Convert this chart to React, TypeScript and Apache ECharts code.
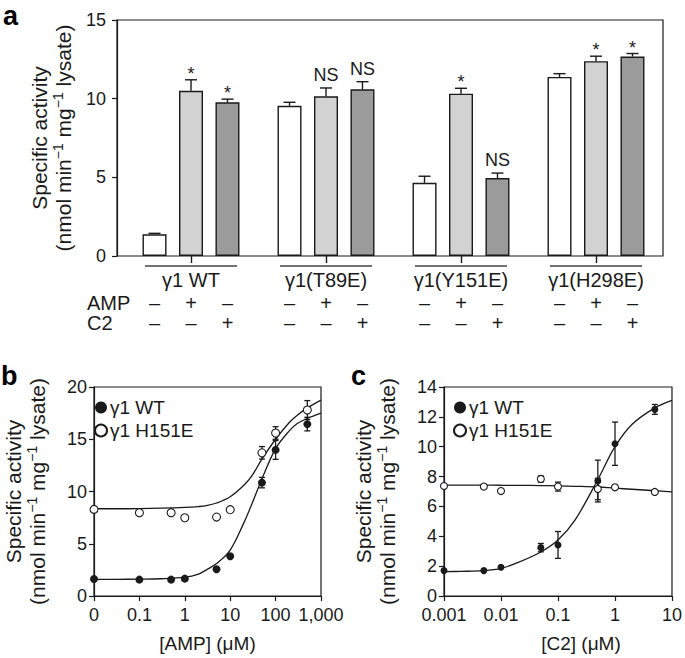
import React, { useEffect, useRef } from 'react';
import * as echarts from 'echarts';

// ---------- Panel a ----------
const groups = ['γ1 WT', 'γ1(T89E)', 'γ1(Y151E)', 'γ1(H298E)'];
const basal = [1.38, 9.55, 4.65, 11.38];
const basalErr = [0.06, 0.22, 0.42, 0.21];
const ampVals = [10.5, 10.15, 10.32, 12.38];
const ampErr = [0.7, 0.53, 0.34, 0.32];
const c2Vals = [9.77, 10.6, 4.95, 12.68];
const c2Err = [0.2, 0.48, 0.32, 0.19];
const ampMarks = ['*', 'NS', '*', '*'];
const c2Marks = ['*', 'NS', 'NS', '*'];
const ampSigns = ['–', '+', '–'];
const c2Signs = ['–', '–', '+'];
const barColors = ['#ffffff', '#d2d2d2', '#9b9b9b'];

// ---------- Panel b ----------
const ampConc = [0, 0.1, 0.5, 1, 5, 10, 50, 100, 500];
const bWT = [1.63, 1.57, 1.57, 1.66, 2.56, 3.81, 10.85, 13.98, 16.45];
const bWTErr = [0, 0, 0, 0, 0, 0, 0.5, 0.9, 0.65];
const bH = [8.29, 7.97, 7.97, 7.49, 7.55, 8.26, 13.7, 15.6, 17.8];
const bHErr = [0, 0, 0, 0, 0, 0, 0.6, 0.6, 0.9];
const bFitX = [0, 0.03, 0.1, 0.3, 1, 2, 3, 5, 10, 20, 30, 50, 100, 200, 300, 500, 1000];
const bFitWT = [1.6, 1.6, 1.61, 1.65, 1.8, 2.1, 2.5, 3.1, 4.4, 7.0, 8.8, 11.2, 14.1, 15.8, 16.5, 17.0, 17.5];
const bFitH = [8.35, 8.35, 8.36, 8.4, 8.48, 8.56, 8.65, 8.9, 9.5, 10.6, 11.5, 13.1, 15.0, 16.6, 17.3, 18.0, 18.75];
const bTickLabels = ['0', '0.1', '1', '10', '100', '1,000'];
const B_ZERO = 0.01; // where "0" sits on the log axis

// ---------- Panel c ----------
const c2Conc = [0.001, 0.005, 0.01, 0.05, 0.1, 0.5, 1, 5];
const cWT = [1.7, 1.7, 1.92, 3.24, 3.42, 7.7, 10.2, 12.5];
const cWTErr = [0, 0, 0, 0.28, 0.9, 1.4, 1.45, 0.33];
const cH = [7.37, 7.33, 7.03, 7.84, 7.33, 7.17, 7.28, 6.97];
const cHErr = [0, 0, 0, 0.2, 0.3, 0.72, 0.15, 0.1];
const cFitX = [0.001, 0.002, 0.005, 0.01, 0.02, 0.05, 0.1, 0.2, 0.5, 1, 2, 5, 10];
const cFitWT = [1.63, 1.65, 1.7, 1.85, 2.25, 2.95, 3.75, 5.1, 7.8, 10.0, 11.5, 12.6, 13.1];
const cFitH = [7.43, 7.43, 7.43, 7.42, 7.41, 7.4, 7.38, 7.35, 7.3, 7.22, 7.15, 7.05, 6.97];
const cTickLabels = ['0.001', '0.01', '0.1', '1', '10'];

const FONT = '"Liberation Sans", Arial, Helvetica, sans-serif';
const INK = '#1a1a1a';
const BAR_W = 24;
const BAR_GAP = 0.52;
const BAR_STEP = BAR_W * (1 + BAR_GAP);
const TICK_FS = 18;
const TITLE_FS = 21;
const yTitle = 'Specific activity\n(nmol min{sup|−1} mg{sup|−1} lysate)';
const yTitleStyle = {
  fontSize: TITLE_FS,
  fontFamily: FONT,
  color: INK,
  lineHeight: 24,
  rich: {
    sup: { fontSize: 14, fontFamily: FONT, color: INK, verticalAlign: 'top', lineHeight: 15 },
  },
};

function errRender(capHalf: number, lw: number) {
  return (params: any, api: any) => {
    const x = api.value(0);
    const y = api.value(1);
    const e = api.value(2);
    if (!e) return { type: 'group', children: [] };
    const t = api.coord([x, y + e]);
    const b = api.coord([x, y - e]);
    const st = { stroke: INK, lineWidth: lw };
    return {
      type: 'group',
      children: [
        { type: 'line', shape: { x1: t[0], y1: t[1], x2: b[0], y2: b[1] }, style: st },
        { type: 'line', shape: { x1: t[0] - capHalf, y1: t[1], x2: t[0] + capHalf, y2: t[1] }, style: st },
        { type: 'line', shape: { x1: b[0] - capHalf, y1: b[1], x2: b[0] + capHalf, y2: b[1] }, style: st },
      ],
    };
  };
}

function barErrRender(k: number, vals: number[], errs: number[], marks: string[] | null) {
  return (params: any, api: any) => {
    const i = params.dataIndex;
    const v = vals[i];
    const e = errs[i];
    const base = api.coord([i, v]);
    const top = api.coord([i, v + e]);
    const x = base[0] + (k - 1) * BAR_STEP;
    const st = { stroke: INK, lineWidth: 1.4 };
    const children: any[] = [
      { type: 'line', shape: { x1: x, y1: base[1], x2: x, y2: top[1] }, style: st },
      { type: 'line', shape: { x1: x - 6, y1: top[1], x2: x + 6, y2: top[1] }, style: st },
    ];
    if (marks) {
      const m = marks[i];
      children.push({
        type: 'text',
        x,
        y: m === '*' ? top[1] + 3 : top[1] - 4,
        style: {
          text: m,
          fontSize: 18,
          fontFamily: FONT,
          fill: INK,
          align: 'center',
          verticalAlign: 'bottom',
        },
      });
    }
    return { type: 'group', children };
  };
}

function signsRender(params: any, api: any) {
  const i = params.dataIndex;
  const c = api.coord([i, 0]);
  const children: any[] = [
    { type: 'line', shape: { x1: c[0] - 46, y1: c[1] + 10, x2: c[0] + 46, y2: c[1] + 10 }, style: { stroke: '#444', lineWidth: 1.4 } },
  ];
  for (let k = 0; k < 3; k++) {
    const x = c[0] + (k - 1) * BAR_STEP;
    children.push({ type: 'text', x, y: c[1] + 47, style: { text: ampSigns[k], fontSize: 20, fontFamily: FONT, fill: INK, align: 'center', verticalAlign: 'middle' } });
    children.push({ type: 'text', x, y: c[1] + 67, style: { text: c2Signs[k], fontSize: 20, fontFamily: FONT, fill: INK, align: 'center', verticalAlign: 'middle' } });
  }
  return { type: 'group', children };
}

const axisCommon = {
  axisLine: { show: true, lineStyle: { color: INK, width: 1.2 } },
  axisTick: { show: true, length: 5, lineStyle: { color: INK, width: 1.2 } },
  axisLabel: { fontSize: TICK_FS, fontFamily: FONT, color: INK, margin: 10 },
  splitLine: { show: false },
};

const legendCommon = {
  orient: 'vertical',
  data: ['γ1 WT', 'γ1 H151E'],
  itemWidth: 12,
  itemHeight: 12,
  itemGap: 4,
  selectedMode: false,
  textStyle: { fontSize: 19, fontFamily: FONT, color: INK, padding: [0, 0, 0, -2] },
};

export default function App() {
  const ref = useRef<HTMLDivElement>(null);
  useEffect(() => {
    const chart = echarts.init(ref.current!, null, { renderer: 'svg' });
    const fitLine = (xi: number, data: number[][]) => ({
      type: 'line',
      xAxisIndex: xi,
      yAxisIndex: xi,
      data,
      smooth: 0.35,
      symbol: 'none',
      lineStyle: { color: INK, width: 1.3 },
      silent: true,
    });
    const scat = (name: string, xi: number, data: number[][], filled: boolean, size: number) => ({
      name,
      type: 'scatter',
      xAxisIndex: xi,
      yAxisIndex: xi,
      data,
      symbol: 'circle',
      symbolSize: size,
      itemStyle: filled
        ? { color: INK, opacity: 1 }
        : { color: '#fff', borderColor: INK, borderWidth: 1.1, opacity: 1 },
      clip: false,
      silent: true,
      z: 4,
    });
    const errs = (xi: number, data: number[][]) => ({
      type: 'custom',
      xAxisIndex: xi,
      yAxisIndex: xi,
      data,
      renderItem: errRender(3, 1.3),
      silent: true,
    });
    const bx = (x: number) => (x === 0 ? B_ZERO : x);
    const option: any = {
      animation: false,
      backgroundColor: '#fff',
      textStyle: { fontFamily: FONT },
      grid: [
        { left: 117, top: 20, width: 546, height: 236, show: true, borderColor: INK, borderWidth: 1.2, backgroundColor: 'transparent' },
        { left: 123.5, top: 20, width: 540, height: 236 },
        { left: 87, top: 387, width: 234, height: 209, show: true, borderColor: INK, borderWidth: 1.2, backgroundColor: 'transparent' },
        { left: 444, top: 387, width: 231, height: 209, show: true, borderColor: INK, borderWidth: 1.2, backgroundColor: 'transparent' },
      ],
      xAxis: [
        { gridIndex: 0, type: 'value', min: 0, max: 1, show: false },
        {
          gridIndex: 1,
          type: 'category',
          data: groups,
          axisLine: { show: false },
          axisTick: { show: true, alignWithLabel: true, length: 7, lineStyle: { color: INK, width: 1.4 } },
          axisLabel: { fontSize: 20, fontFamily: FONT, color: INK, margin: 14 },
        },
        {
          gridIndex: 2,
          type: 'log',
          logBase: 10,
          min: B_ZERO,
          max: 1000,
          ...axisCommon,
          axisLabel: { ...axisCommon.axisLabel, formatter: (v: number) => bTickLabels[Math.round(Math.log10(v)) + 2] ?? '' },
          name: '[AMP] (μM)',
          nameLocation: 'middle',
          nameGap: 38,
          nameTextStyle: { fontSize: 19, fontFamily: FONT, color: INK },
        },
        {
          gridIndex: 3,
          type: 'log',
          logBase: 10,
          min: 0.001,
          max: 10,
          ...axisCommon,
          axisLabel: { ...axisCommon.axisLabel, formatter: (v: number) => cTickLabels[Math.round(Math.log10(v)) + 3] ?? '' },
          name: '[C2] (μM)',
          nameLocation: 'middle',
          nameGap: 38,
          nameTextStyle: { fontSize: 19, fontFamily: FONT, color: INK, padding: [0, 0, 0, 46] },
        },
      ],
      yAxis: [
        {
          gridIndex: 0,
          type: 'value',
          min: 0,
          max: 15,
          interval: 5,
          ...axisCommon,
          axisLabel: { ...axisCommon.axisLabel, margin: 11 },
          name: yTitle,
          nameLocation: 'middle',
          nameGap: 42,
          nameTextStyle: yTitleStyle,
        },
        { gridIndex: 1, type: 'value', min: 0, max: 15, show: false },
        {
          gridIndex: 2,
          type: 'value',
          min: 0,
          max: 20,
          interval: 5,
          ...axisCommon,
          axisLabel: { ...axisCommon.axisLabel, margin: 7 },
          name: yTitle,
          nameLocation: 'middle',
          nameGap: 45,
          nameTextStyle: yTitleStyle,
        },
        {
          gridIndex: 3,
          type: 'value',
          min: 0,
          max: 14,
          interval: 2,
          ...axisCommon,
          axisLabel: { ...axisCommon.axisLabel, margin: 7 },
          name: yTitle,
          nameLocation: 'middle',
          nameGap: 45,
          nameTextStyle: yTitleStyle,
        },
      ],
      legend: [
        { ...legendCommon, left: 89, top: 393 },
        { ...legendCommon, left: 448, top: 393 },
      ],
      graphic: [
        { type: 'text', x: 3, y: 16, style: { text: 'a', fontSize: 27, fontWeight: 'bold', fontFamily: FONT, fill: '#000', verticalAlign: 'middle' } },
        { type: 'text', x: 1, y: 376, style: { text: 'b', fontSize: 27, fontWeight: 'bold', fontFamily: FONT, fill: '#000', verticalAlign: 'middle' } },
        { type: 'text', x: 351, y: 376, style: { text: 'c', fontSize: 27, fontWeight: 'bold', fontFamily: FONT, fill: '#000', verticalAlign: 'middle' } },
        { type: 'text', x: 87, y: 303, style: { text: 'AMP', fontSize: 20, fontFamily: FONT, fill: INK, verticalAlign: 'middle' } },
        { type: 'text', x: 87, y: 323, style: { text: 'C2', fontSize: 20, fontFamily: FONT, fill: INK, verticalAlign: 'middle' } },
      ],
      series: [
        // Panel a bars
        ...[basal, ampVals, c2Vals].map((vals, k) => ({
          type: 'bar',
          xAxisIndex: 1,
          yAxisIndex: 1,
          data: vals,
          barWidth: BAR_W,
          barGap: `${BAR_GAP * 100}%`,
          itemStyle: { color: barColors[k], borderColor: INK, borderWidth: 1.4 },
          silent: true,
        })),
        ...[
          [basal, basalErr, null],
          [ampVals, ampErr, ampMarks],
          [c2Vals, c2Err, c2Marks],
        ].map((d: any, k) => ({
          type: 'custom',
          xAxisIndex: 1,
          yAxisIndex: 1,
          data: groups.map((_, i) => [i, d[0][i]]),
          renderItem: barErrRender(k, d[0], d[1], d[2]),
          silent: true,
          z: 5,
        })),
        {
          type: 'custom',
          xAxisIndex: 1,
          yAxisIndex: 1,
          data: groups.map((_, i) => [i, 0]),
          renderItem: signsRender,
          silent: true,
          clip: false,
        },
        // Panel b
        fitLine(2, bFitX.map((x, i) => [bx(x), bFitWT[i]])),
        fitLine(2, bFitX.map((x, i) => [bx(x), bFitH[i]])),
        errs(2, ampConc.map((x, i) => [bx(x), bH[i], bHErr[i]])),
        errs(2, ampConc.map((x, i) => [bx(x), bWT[i], bWTErr[i]])),
        scat('γ1 H151E', 2, ampConc.map((x, i) => [bx(x), bH[i]]), false, 8),
        scat('γ1 WT', 2, ampConc.map((x, i) => [bx(x), bWT[i]]), true, 8),
        // Panel c
        fitLine(3, cFitX.map((x, i) => [x, cFitWT[i]])),
        fitLine(3, cFitX.map((x, i) => [x, cFitH[i]])),
        errs(3, c2Conc.map((x, i) => [x, cH[i], cHErr[i]])),
        errs(3, c2Conc.map((x, i) => [x, cWT[i], cWTErr[i]])),
        scat('γ1 H151E', 3, c2Conc.map((x, i) => [x, cH[i]]), false, 7),
        scat('γ1 WT', 3, c2Conc.map((x, i) => [x, cWT[i]]), true, 7),
      ],
    };
    chart.setOption(option);
    return () => chart.dispose();
  }, []);
  return (
    <div
      ref={ref}
      style={{ position: 'fixed', left: 0, top: 0, width: 685, height: 658, background: '#fff' }}
    />
  );
}
